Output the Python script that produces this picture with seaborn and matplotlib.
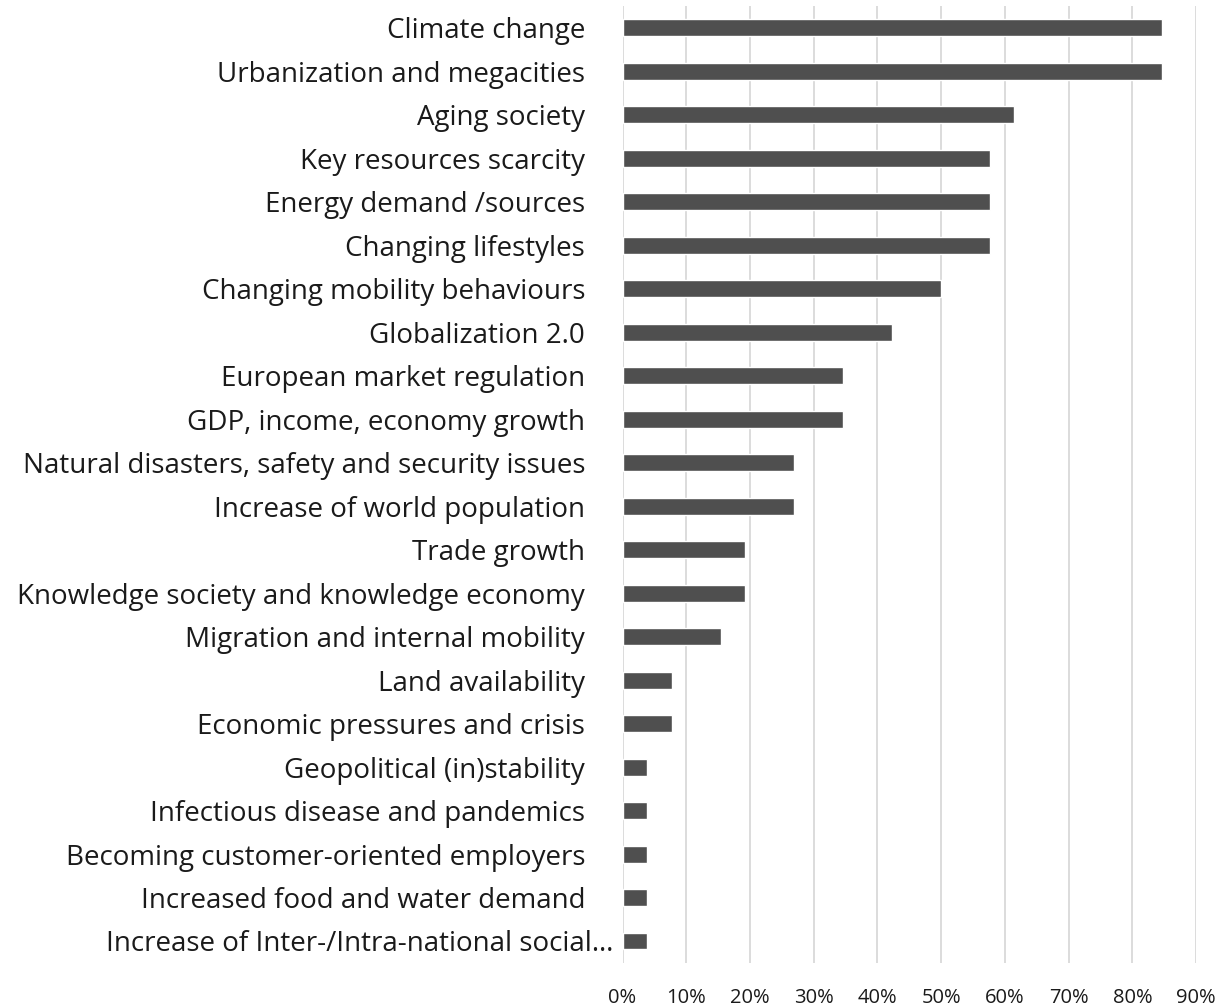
import matplotlib
matplotlib.use("Agg")
import matplotlib.pyplot as plt
import matplotlib.ticker as mtick
import matplotlib.transforms as mtrans
import pandas as pd
import seaborn as sns

categories = [
    "Climate change",
    "Urbanization and megacities",
    "Aging society",
    "Key resources scarcity",
    "Energy demand /sources",
    "Changing lifestyles",
    "Changing mobility behaviours",
    "Globalization 2.0",
    "European market regulation",
    "GDP, income, economy growth",
    "Natural disasters, safety and security issues",
    "Increase of world population",
    "Trade growth",
    "Knowledge society and knowledge economy",
    "Migration and internal mobility",
    "Land availability",
    "Economic pressures and crisis",
    "Geopolitical (in)stability",
    "Infectious disease and pandemics",
    "Becoming customer-oriented employers",
    "Increased food and water demand",
    "Increase of Inter-/Intra-national social\u2026",
]
shares = [0.846, 0.846, 0.615, 0.577, 0.577, 0.577, 0.500, 0.423, 0.346, 0.346,
          0.269, 0.269, 0.192, 0.192, 0.154, 0.077, 0.077, 0.038, 0.038, 0.038,
          0.038, 0.038]
x_ticks = [0, 0.1, 0.2, 0.3, 0.4, 0.5, 0.6, 0.7, 0.8, 0.9]

df = pd.DataFrame({"trend": categories, "share": shares})

sns.set_theme(style="white")
plt.rcParams["font.family"] = ["Open Sans", "DejaVu Sans"]

fig, ax = plt.subplots(figsize=(12.23, 10.06), dpi=100)
fig.subplots_adjust(left=0.509, right=0.978, top=0.994, bottom=0.043)

sns.barplot(data=df, x="share", y="trend", color="#4f4f4f", saturation=1,
            width=0.39, ax=ax, zorder=3)

ax.set_xlim(0, 0.9)
ax.set_xticks(x_ticks)
ax.xaxis.set_major_formatter(mtick.PercentFormatter(1.0, decimals=0))
ax.grid(axis="x", color="#d9d9d9", linewidth=1.3, zorder=0)
ax.set_axisbelow(True)
for s in ax.spines.values():
    s.set_visible(False)
ax.set_xlabel("")
ax.set_ylabel("")
ax.tick_params(axis="y", length=0, pad=27, labelsize=20, labelcolor="#1a1a1a")
ax.tick_params(axis="x", length=0, pad=18, labelsize=14.5, labelcolor="#1a1a1a")

# the truncated last label sits closer to the axis, like in Excel
last = ax.get_yticklabels()[-1]
last.set_transform(last.get_transform() +
                   mtrans.ScaledTranslation(0.28, 0, fig.dpi_scale_trans))

fig.savefig("out.png", dpi=100)
